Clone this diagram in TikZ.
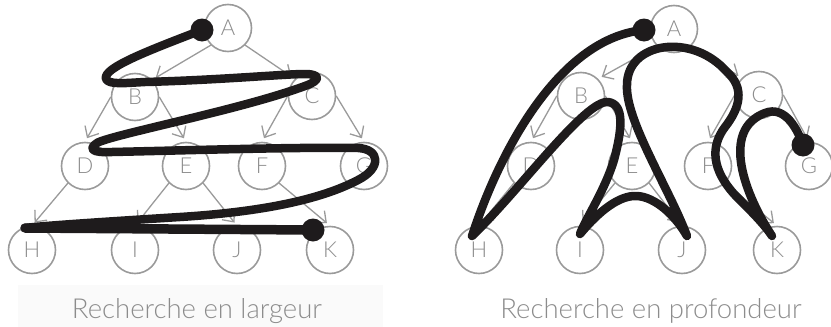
\documentclass[tikz,border=0pt]{standalone}
\usepackage{fontspec}
\setmainfont{Lato}[UprightFont={* Light}]
\usetikzlibrary{arrows.meta}
\definecolor{nodegray}{HTML}{9A9A9A}
\definecolor{txtgray}{HTML}{8C8C8C}
\definecolor{pathblack}{HTML}{1E1B1C}
\definecolor{bandgray}{HTML}{FAFAFA}
\tikzset{
  tnode/.style={circle, draw=nodegray, line width=1.6pt, minimum size=47pt, inner sep=0pt,
    text=txtgray, font=\fontsize{22}{22}\selectfont},
  tedge/.style={draw=nodegray, line width=1.3pt, -{Straight Barb[length=9pt,width=16pt]}, shorten >=4pt},
  trail/.style={draw=pathblack, line width=8.5pt, line cap=round, line join=round},
  dotmark/.style={circle, fill=pathblack, minimum size=23pt, inner sep=0pt},
  captiontext/.style={text=txtgray, font=\fontsize{27.5}{27.5}\selectfont, anchor=base},
}
\begin{document}
\begin{tikzpicture}[x=1pt,y=-1pt]
\useasboundingbox (0,0) rectangle (831,327);
\fill[bandgray] (18,285) rectangle (383,327);

% ---------- left tree ----------
\node[tnode] (lA) at (228,28) {A};
\node[tnode] (lB) at (135,97) {B};
\node[tnode] (lC) at (312,96) {C};
\node[tnode] (lD) at (85,166) {D};
\node[tnode] (lE) at (186,166) {E};
\node[tnode] (lF) at (262,166) {F};
\node[tnode] (lG) at (364,166) {G};
\node[tnode] (lH) at (32,250) {H};
\node[tnode] (lI) at (135,250) {I};
\node[tnode] (lJ) at (237,250) {J};
\node[tnode] (lK) at (330,250) {K};
\draw[tedge] (lA.225) -- (lB.45);
\draw[tedge] (lA.315) -- (lC.135);
\draw[tedge] (lB.west) -- (lD.north);
\draw[tedge] (lB.east) -- (lE.north);
\draw[tedge] (lC.west) -- (lF.north);
\draw[tedge] (lC.east) -- (lG.north);
\draw[tedge] (lD.225) -- (lH.north);
\draw[tedge] (lE.225) -- (lI.north);
\draw[tedge] (lE.315) -- (lJ.north);
\draw[tedge] (lF.315) -- (lK.north);

\node[dotmark] (lstart) at (202,30) {};
\node[dotmark] (lend) at (313,230) {};
\coordinate (lturn) at (25,228);
\draw[trail] (lstart.center) .. controls (150,50) and (102,68) .. (106,79)
  .. controls (109,85) and (125,83) .. (145,82)
  .. controls (220,80) and (285,74) .. (305,74)
  .. controls (320,74) and (322,80) .. (305,86)
  .. controls (240,110) and (110,135) .. (97,143)
  .. controls (88,149) and (92,153) .. (112,152)
  .. controls (200,150) and (300,147) .. (358,148)
  .. controls (380,149) and (382,168) .. (358,180)
  .. controls (320,200) and (260,212) .. (180,217)
  .. controls (100,222) and (40,226) .. (lturn);
\draw[trail, line width=9.5pt] (lturn) -- (lend.center);

\node[captiontext] (lcap) at (197,318) {Recherche en largeur};

% ---------- right tree ----------
\node[tnode] (rA) at (674,29) {A};
\node[tnode] (rB) at (581,96) {B};
\node[tnode] (rC) at (759,95) {C};
\node[tnode] (rD) at (531,166) {D};
\node[tnode] (rE) at (632,166) {E};
\node[tnode] (rF) at (708,166) {F};
\node[tnode] (rG) at (809,166) {G};
\node[tnode] (rH) at (479,250) {H};
\node[tnode] (rI) at (580,250) {I};
\node[tnode] (rJ) at (682,250) {J};
\node[tnode] (rK) at (777,250) {K};
\draw[tedge] (rA.225) -- (rB.45);
\draw[tedge] (rA.315) -- (rC.135);
\draw[tedge] (rB.west) -- (rD.north);
\draw[tedge] (rB.east) -- (rE.north);
\draw[tedge] (rC.west) -- (rF.north);
\draw[tedge] (rC.east) -- (rG.north);
\draw[tedge] (rD.225) -- (rH.north);
\draw[tedge] (rE.225) -- (rI.north);
\draw[tedge] (rE.315) -- (rJ.north);
\draw[tedge] (rF.315) -- (rK.north);

\node[dotmark] (rstart) at (644,30) {};
\node[dotmark] (rend) at (803,145) {};
\draw[trail] (rstart.center) .. controls (560,38) and (500,150) .. (472,236)
  .. controls (520,190) and (585,100) .. (608,102)
  .. controls (625,104) and (622,130) .. (614,160)
  .. controls (605,190) and (585,220) .. (580,234)
  .. controls (600,210) and (620,195) .. (637,196)
  .. controls (655,197) and (675,215) .. (687,236)
  .. controls (670,190) and (625,120) .. (627,85)
  .. controls (627,42) and (692,32) .. (727,72)
  .. controls (745,88) and (740,108) .. (725,127)
  .. controls (710,147) and (712,170) .. (735,195)
  .. controls (750,210) and (765,225) .. (772,236)
  .. controls (745,195) and (720,130) .. (765,113)
  .. controls (785,105) and (798,130) .. (rend.center);

\node[captiontext] (rcap) at (651,318) {Recherche en profondeur};
\end{tikzpicture}
\end{document}
